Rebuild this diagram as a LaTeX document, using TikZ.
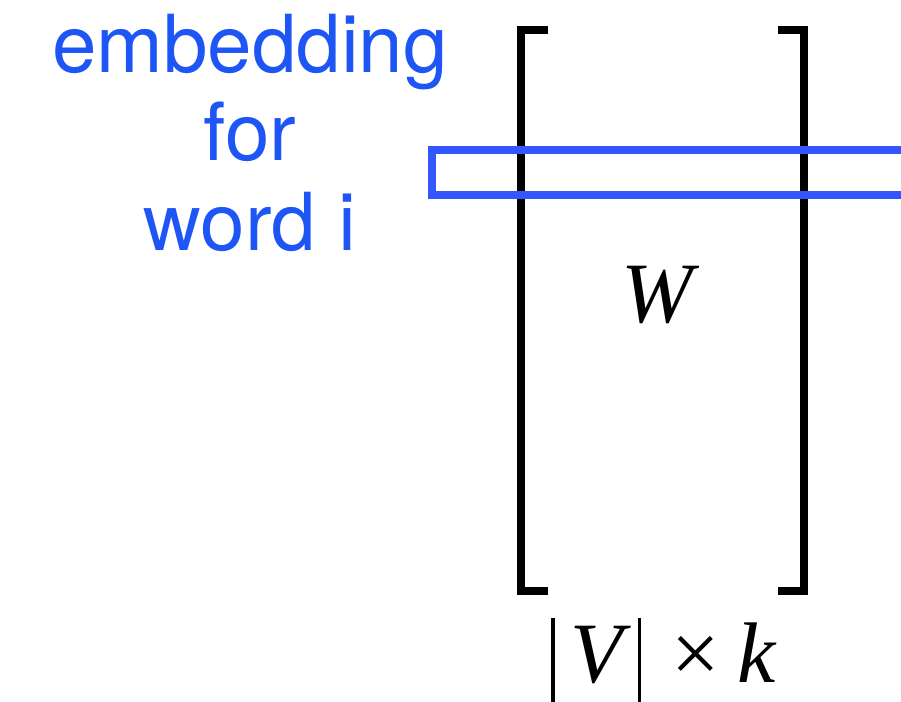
\documentclass[tikz,border=0pt]{standalone}
\usepackage{fontspec}
\setmainfont{Liberation Serif}
\newfontfamily\heros{TeX Gyre Heros}
\newfontfamily\tms{Liberation Serif}
\definecolor{embblue}{RGB}{30,86,246}
\definecolor{rowblue}{RGB}{52,86,255}
\newcommand{\dimbar}{\rule[-40pt]{3.5pt}{104pt}}
\begin{document}
\begin{tikzpicture}[x=1pt,y=-1pt,
  bracket/.style={line width=8pt,line join=miter,line cap=butt},
  bluetext/.style={text=embblue,font=\heros\fontsize{80}{89}\selectfont,inner sep=0pt,anchor=base},
  mathtext/.style={font=\tms\itshape\fontsize{86}{90}\selectfont,inner sep=0pt,anchor=base}]
\clip (0,0) rectangle (901,701);
\fill[white] (0,0) rectangle (901,701);
% brackets
\coordinate (lt) at (548,30);
\coordinate (lb) at (548,591);
\coordinate (rt) at (778,30);
\coordinate (rb) at (778,591);
\draw[bracket] (lt) -- (521,30) -- (521,591) -- (lb);
\draw[bracket] (rt) -- (804,30) -- (804,591) -- (rb);
% highlighted row
\draw[rowblue,line width=8pt,line join=miter] (940,150) -- (432,150) -- (432,195) -- (940,195);
% labels
\node[bluetext] (l1) at (250,72) {embedding};
\node[bluetext] (l2) at (250,160) {for};
\node[bluetext] (l3) at (250,250) {word i};
\node[mathtext] (W) at (657,322) {W};
\node[mathtext,anchor=base west] (dim) at (551,682) {\dimbar\kern16pt V\kern14.5pt\dimbar\kern30pt{\upshape ×}\kern18pt k};
\end{tikzpicture}
\end{document}
